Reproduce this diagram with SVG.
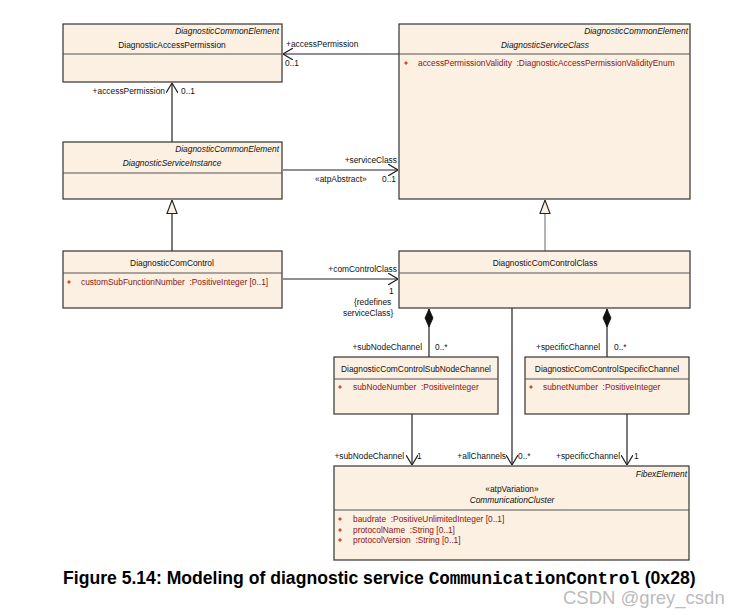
<svg xmlns="http://www.w3.org/2000/svg" width="737" height="615" viewBox="0 0 737 615">
<defs>
<style>
.box{fill:#FBF0E1;stroke:#333;stroke-width:1.2}
.div{stroke:#555;stroke-width:1}
text{font-family:"Liberation Sans",Arial,sans-serif;font-size:8.4px;fill:#111}
.st{font-style:italic;text-anchor:end}
.nm{text-anchor:middle}
.it{font-style:italic}
.at{fill:#8B1414;white-space:pre}
.end{text-anchor:end}
.ln{stroke:#222;stroke-width:1.2;fill:none}
.bul{fill:#D0502A}
</style>
<marker id="open" viewBox="0 0 10 12" refX="10" refY="6" markerWidth="10" markerHeight="12" orient="auto" markerUnits="userSpaceOnUse">
<path d="M0,0 L10,6 L0,12" fill="none" stroke="#222" stroke-width="1.2"/>
</marker>
<marker id="gen" viewBox="0 0 15 12" refX="14.5" refY="6" markerWidth="15" markerHeight="12" orient="auto" markerUnits="userSpaceOnUse">
<path d="M1,1 L14.5,6 L1,11 Z" fill="#FBF0E1" stroke="#222" stroke-width="1.1"/>
</marker>
<marker id="comp" viewBox="0 0 18 10" refX="0" refY="5" markerWidth="18" markerHeight="10" orient="auto" markerUnits="userSpaceOnUse">
<path d="M0,5 L9,1 L18,5 L9,9 Z" fill="#111" stroke="#111" stroke-width="0.8"/>
</marker>
</defs>

<g id="connectors">
<line class="ln" x1="399" y1="54" x2="283" y2="54" marker-end="url(#open)"/>
<line class="ln" x1="172" y1="142" x2="172" y2="83" marker-end="url(#open)"/>
<line class="ln" x1="283" y1="170" x2="398" y2="170" marker-end="url(#open)"/>
<line class="ln" x1="172" y1="251" x2="172" y2="200" marker-end="url(#gen)"/>
<line class="ln" x1="283" y1="279" x2="398" y2="279" marker-end="url(#open)"/>
<line class="ln" x1="545" y1="251" x2="545" y2="200" marker-end="url(#gen)" style="stroke:#808080"/>
<line class="ln" x1="429" y1="309" x2="429" y2="357" marker-start="url(#comp)"/>
<line class="ln" x1="607" y1="309" x2="607" y2="357" marker-start="url(#comp)"/>
<line class="ln" x1="412" y1="414" x2="412" y2="465" marker-end="url(#open)"/>
<line class="ln" x1="512" y1="308" x2="512" y2="465" marker-end="url(#open)"/>
<line class="ln" x1="627" y1="414" x2="627" y2="465" marker-end="url(#open)"/>
<text x="286" y="47">+accessPermission</text>
<text x="285" y="66">0..1</text>
<text class="end" x="165" y="94">+accessPermission</text>
<text x="181" y="94">0..1</text>
<text class="end" x="397" y="163">+serviceClass</text>
<text x="315" y="182">«atpAbstract»</text>
<text x="382" y="182">0..1</text>
<text class="end" x="397" y="272">+comControlClass</text>
<text x="389" y="294">1</text>
<text x="354" y="305">{redefines</text>
<text x="343" y="316">serviceClass}</text>
<text class="end" x="422" y="350">+subNodeChannel</text>
<text x="435" y="350">0..*</text>
<text class="end" x="600" y="350">+specificChannel</text>
<text x="614" y="350">0..*</text>
<text class="end" x="404" y="459">+subNodeChannel</text>
<text x="417" y="459">1</text>
<text class="end" x="506" y="459">+allChannels</text>
<text x="518" y="459">0..*</text>
<text class="end" x="620" y="459">+specificChannel</text>
<text x="634" y="459">1</text>
</g>

<g id="DiagnosticAccessPermission">
<rect class="box" x="63" y="24" width="219" height="58"/>
<line class="div" x1="63" y1="54" x2="282" y2="54"/>
<text class="st" x="279" y="34">DiagnosticCommonElement</text>
<text class="nm" x="172" y="48">DiagnosticAccessPermission</text>
</g>

<g id="DiagnosticServiceClass">
<rect class="box" x="399" y="24" width="291" height="175"/>
<line class="div" x1="399" y1="54" x2="690" y2="54"/>
<text class="st" x="688" y="34">DiagnosticCommonElement</text>
<text class="nm it" x="545" y="48">DiagnosticServiceClass</text>
<path class="bul" d="M406,61 l2,2 l-2,2 l-2,-2 Z"/>
<text class="at" x="418" y="66">accessPermissionValidity  :DiagnosticAccessPermissionValidityEnum</text>
</g>

<g id="DiagnosticServiceInstance">
<rect class="box" x="63" y="142" width="219" height="57"/>
<line class="div" x1="63" y1="173" x2="282" y2="173"/>
<text class="st" x="279" y="152">DiagnosticCommonElement</text>
<text class="nm it" x="172" y="166">DiagnosticServiceInstance</text>
</g>

<g id="DiagnosticComControl">
<rect class="box" x="63" y="251" width="219" height="57"/>
<line class="div" x1="63" y1="273" x2="282" y2="273"/>
<text class="nm" x="172" y="266">DiagnosticComControl</text>
<path class="bul" d="M69,280 l2,2 l-2,2 l-2,-2 Z"/>
<text class="at" x="81" y="285">customSubFunctionNumber  :PositiveInteger [0..1]</text>
</g>

<g id="DiagnosticComControlClass">
<rect class="box" x="399" y="251" width="291" height="57"/>
<line class="div" x1="399" y1="273" x2="690" y2="273"/>
<text class="nm" x="545" y="266">DiagnosticComControlClass</text>
</g>

<g id="DiagnosticComControlSubNodeChannel">
<rect class="box" x="334" y="357" width="164" height="57"/>
<line class="div" x1="334" y1="379" x2="498" y2="379"/>
<text class="nm" x="416" y="372">DiagnosticComControlSubNodeChannel</text>
<path class="bul" d="M340,385 l2,2 l-2,2 l-2,-2 Z"/>
<text class="at" x="353" y="390">subNodeNumber  :PositiveInteger</text>
</g>

<g id="DiagnosticComControlSpecificChannel">
<rect class="box" x="525" y="357" width="164" height="57"/>
<line class="div" x1="525" y1="379" x2="689" y2="379"/>
<text class="nm" x="607" y="372">DiagnosticComControlSpecificChannel</text>
<path class="bul" d="M531,385 l2,2 l-2,2 l-2,-2 Z"/>
<text class="at" x="543" y="390">subnetNumber  :PositiveInteger</text>
</g>

<g id="CommunicationCluster">
<rect class="box" x="334" y="466" width="355" height="94"/>
<line class="div" x1="334" y1="510" x2="689" y2="510"/>
<text class="st" x="687" y="477">FibexElement</text>
<text class="nm" x="512" y="492">«atpVariation»</text>
<text class="nm it" x="512" y="503">CommunicationCluster</text>
<path class="bul" d="M340,517 l2,2 l-2,2 l-2,-2 Z"/>
<text class="at" x="353" y="522">baudrate  :PositiveUnlimitedInteger [0..1]</text>
<path class="bul" d="M340,528 l2,2 l-2,2 l-2,-2 Z"/>
<text class="at" x="353" y="533">protocolName  :String [0..1]</text>
<path class="bul" d="M340,538 l2,2 l-2,2 l-2,-2 Z"/>
<text class="at" x="353" y="543">protocolVersion  :String [0..1]</text>
</g>

<text x="63" y="584" style="font-size:17.6px;font-weight:bold;fill:#000">Figure 5.14: Modeling of diagnostic service <tspan style="font-family:'Liberation Mono',monospace;font-weight:bold;font-size:17.6px">CommunicationControl</tspan> (0x28)</text>
<text x="563" y="604" style="font-size:18.5px;fill:#bbbbbb">CSDN @grey_csdn</text>
</svg>
